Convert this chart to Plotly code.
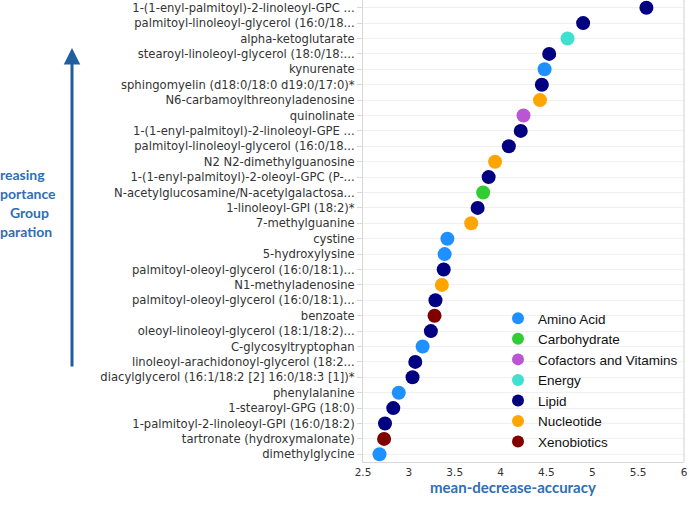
import plotly.graph_objects as go

metabolites = [
    "1-(1-enyl-palmitoyl)-2-linoleoyl-GPC ...",
    "palmitoyl-linoleoyl-glycerol (16:0/18...",
    "alpha-ketoglutarate",
    "stearoyl-linoleoyl-glycerol (18:0/18:...",
    "kynurenate",
    "sphingomyelin (d18:0/18:0 d19:0/17:0)*",
    "N6-carbamoylthreonyladenosine",
    "quinolinate",
    "1-(1-enyl-palmitoyl)-2-linoleoyl-GPE ...",
    "palmitoyl-linoleoyl-glycerol (16:0/18...",
    "N2 N2-dimethylguanosine",
    "1-(1-enyl-palmitoyl)-2-oleoyl-GPC (P-...",
    "N-acetylglucosamine/N-acetylgalactosa...",
    "1-linoleoyl-GPI (18:2)*",
    "7-methylguanine",
    "cystine",
    "5-hydroxylysine",
    "palmitoyl-oleoyl-glycerol (16:0/18:1)...",
    "N1-methyladenosine",
    "palmitoyl-oleoyl-glycerol (16:0/18:1)...",
    "benzoate",
    "oleoyl-linoleoyl-glycerol (18:1/18:2)...",
    "C-glycosyltryptophan",
    "linoleoyl-arachidonoyl-glycerol (18:2...",
    "diacylglycerol (16:1/18:2 [2] 16:0/18:3 [1])*",
    "phenylalanine",
    "1-stearoyl-GPG (18:0)",
    "1-palmitoyl-2-linoleoyl-GPI (16:0/18:2)",
    "tartronate (hydroxymalonate)",
    "dimethylglycine",
]
mda = [5.59, 4.90, 4.73, 4.53, 4.48, 4.45, 4.43, 4.25, 4.22, 4.09,
       3.94, 3.87, 3.81, 3.75, 3.68, 3.42, 3.39, 3.38, 3.36, 3.29,
       3.28, 3.24, 3.15, 3.07, 3.04, 2.89, 2.83, 2.74, 2.73, 2.68]
groups = ["Lipid", "Lipid", "Energy", "Lipid", "Amino Acid", "Lipid", "Nucleotide",
          "Cofactors and Vitamins", "Lipid", "Lipid", "Nucleotide", "Lipid", "Carbohydrate",
          "Lipid", "Nucleotide", "Amino Acid", "Amino Acid", "Lipid", "Nucleotide", "Lipid",
          "Xenobiotics", "Lipid", "Amino Acid", "Lipid", "Lipid", "Amino Acid", "Lipid",
          "Lipid", "Xenobiotics", "Amino Acid"]
group_order = ["Amino Acid", "Carbohydrate", "Cofactors and Vitamins", "Energy",
               "Lipid", "Nucleotide", "Xenobiotics"]
group_colors = ["#1E90FF", "#32CD32", "#BA55D3", "#40E0D0", "#000080", "#FFA500", "#800000"]
x_ticks = [2.5, 3, 3.5, 4, 4.5, 5, 5.5, 6]

n = len(metabolites)
ypos = [n - 1 - i for i in range(n)]

fig = go.Figure()
for g, c in zip(group_order, group_colors):
    idx = [i for i in range(n) if groups[i] == g]
    fig.add_trace(go.Scatter(
        x=[mda[i] for i in idx], y=[ypos[i] for i in idx],
        mode="markers", name=g,
        marker=dict(color=c, size=14, line=dict(width=0)),
        hovertext=[metabolites[i] for i in idx],
    ))

blue = "#2F6EB5"
PL, PW, PH = 363, 321, 462
fig.update_layout(
    width=689, height=505,
    margin=dict(l=PL, r=689 - PL - PW, t=0, b=505 - PH, autoexpand=False),
    paper_bgcolor="white", plot_bgcolor="white",
    showlegend=True,
    legend=dict(x=(498 - PL) / PW, y=1 - 303 / PH, xanchor="left", yanchor="top",
                font=dict(family="Liberation Sans, Arial", size=13.5, color="#111"),
                bgcolor="rgba(255,255,255,0)", itemsizing="constant", itemwidth=30,
                tracegroupgap=0),
    xaxis=dict(range=[2.5, 6], tickvals=x_ticks, ticktext=[str(v) for v in x_ticks],
               showgrid=False, zeroline=False, showline=True, linecolor="#d8d8d8",
               ticks="", tickfont=dict(family="DejaVu Sans", size=10.5, color="#333"),
               automargin=False),
    yaxis=dict(range=[-0.5, n - 0.5], tickvals=ypos, ticktext=metabolites,
               showgrid=True, gridcolor="#f0f0f0", zeroline=False, showline=True,
               linecolor="#d8d8d8", ticks="outside", ticklen=5, tickcolor="#d8d8d8",
               automargin=False,
               tickfont=dict(family="DejaVu Sans", size=11.6, color="#333")),
    font=dict(family="DejaVu Sans"),
)
# x axis title
fig.add_annotation(xref="paper", yref="paper", x=(513 - PL) / PW, y=1 - 487 / PH,
                   xanchor="center", yanchor="middle", showarrow=False,
                   text="<b>mean-decrease-accuracy</b>",
                   font=dict(family="Lato", size=15, color=blue))
# right border
fig.add_shape(type="line", xref="paper", yref="paper", x0=1, x1=1, y0=0, y1=1,
              line=dict(color="#e0e0e0", width=1.5))

# arrow
fig.add_annotation(xref="paper", yref="paper", x=(72 - PL) / PW, y=1 - 48 / PH,
                   ax=0, ay=320, axref="pixel", ayref="pixel", text="", showarrow=True,
                   arrowhead=2, arrowsize=1.1, arrowwidth=3, arrowcolor="#1F5F9F")

# side caption (only the part visible in the reference)
side_lines = ["reasing", "portance", "Group", "paration"]
side_left = [-2, -2, 8, -2]
side_y = [174, 193, 212, 231]
for t, lx, yy in zip(side_lines, side_left, side_y):
    fig.add_annotation(xref="paper", yref="paper", x=(lx - PL) / PW, y=1 - yy / PH,
                       xanchor="left", yanchor="middle", text="<b>%s</b>" % t,
                       showarrow=False, font=dict(family="Lato", size=14, color=blue))

fig.write_html("out.html")
